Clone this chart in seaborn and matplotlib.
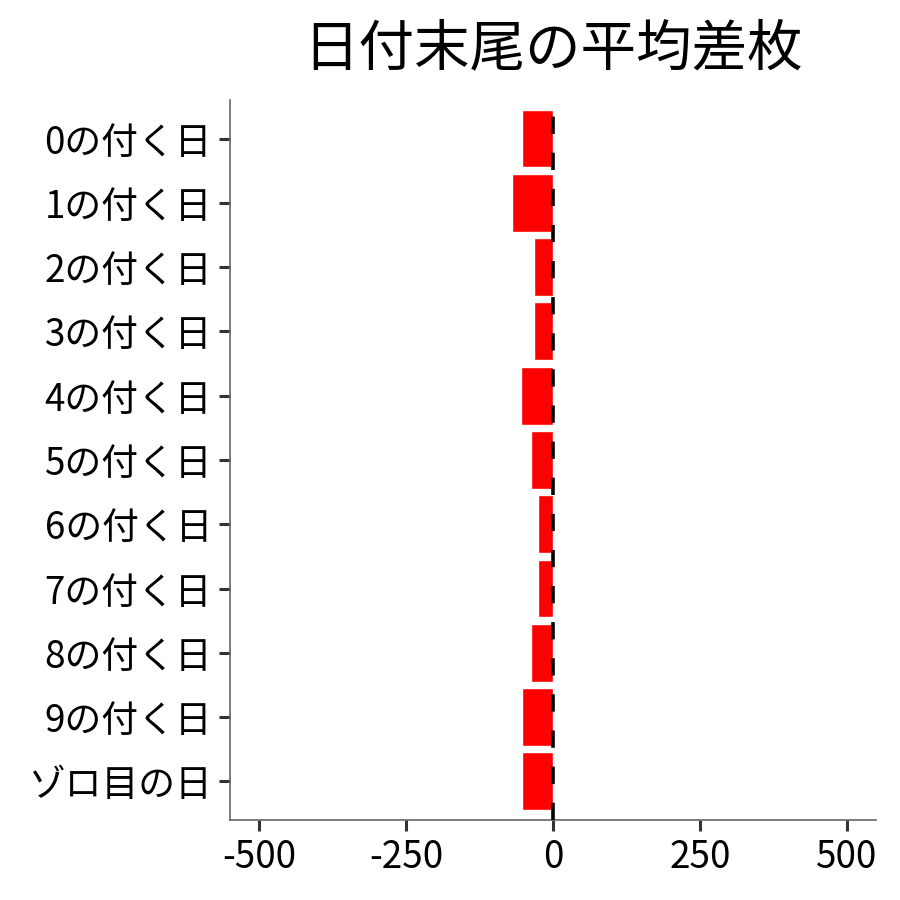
import matplotlib
matplotlib.use("Agg")
import matplotlib.pyplot as plt
import seaborn as sns
import pandas as pd

# Average coin difference by last digit of the date
labels = ["0の付く日", "1の付く日", "2の付く日", "3の付く日", "4の付く日",
          "5の付く日", "6の付く日", "7の付く日", "8の付く日", "9の付く日",
          "ゾロ目の日"]
values = [-52, -69, -32, -32, -54, -37, -26, -26, -37, -52, -52]
xticks = [-500, -250, 0, 250, 500]

sns.set_theme(style="white")
plt.rcParams["font.family"] = ["Noto Sans CJK JP", "DejaVu Sans"]
plt.rcParams["text.color"] = "black"

df = pd.DataFrame({"label": labels, "value": values})

fig = plt.figure(figsize=(9, 9), dpi=100)
ax = fig.add_axes([0.2556, 0.0889, 0.7177, 0.8000])

sns.barplot(data=df, x="value", y="label", order=labels, orient="h",
            color="#ff0000", saturation=1, width=0.9, ax=ax)

ax.axvline(0, color="black", lw=2.6, ls=(0, (4.8, 5.2)), zorder=5)

ax.set_xlim(-550, 550)
ax.set_ylim(len(labels) - 0.4, -0.6)
ax.set_xticks(xticks)
ax.set_xticklabels([str(t) for t in xticks])
ax.set_xlabel("")
ax.set_ylabel("")
ax.set_title("日付末尾の平均差枚", fontsize=40, pad=25, color="black")

for side in ["top", "right"]:
    ax.spines[side].set_visible(False)
for side in ["left", "bottom"]:
    ax.spines[side].set_color("#666666")
    ax.spines[side].set_linewidth(1.2)

ax.tick_params(axis="both", which="major", length=8, width=2.2,
               color="#333333", labelsize=26.5, labelcolor="black", pad=5,
               direction="out", left=True, bottom=True)

fig.savefig("out.png", dpi=100)
plt.close(fig)
